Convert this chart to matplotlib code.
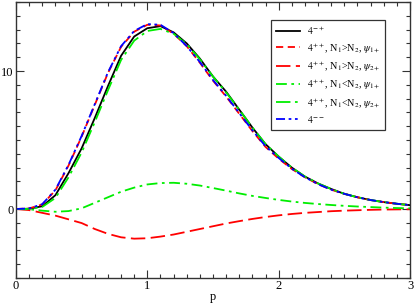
import matplotlib
matplotlib.use("Agg")
import matplotlib.pyplot as plt
from matplotlib.ticker import MultipleLocator

plt.rcParams['font.family'] = ['Liberation Serif', 'DejaVu Serif']
plt.rcParams['mathtext.fontset'] = 'stix'

p = [0.0, 0.1, 0.2, 0.3, 0.4, 0.5, 0.6, 0.7, 0.8, 0.9, 1.0,
     1.1, 1.2, 1.3, 1.4, 1.5, 1.6, 1.7, 1.8, 1.9, 2.0,
     2.1, 2.2, 2.3, 2.4, 2.5, 2.6, 2.7, 2.8, 2.9, 3.0]

# 4^{-+}
black = [0.0, 0.02, 0.2, 1.0, 2.6, 4.4, 6.6, 8.9, 11.1, 12.5, 13.1,
         13.25, 12.8, 12.0, 10.9, 9.6, 8.5, 7.2, 5.9, 4.7, 3.8,
         3.0, 2.35, 1.85, 1.45, 1.1, 0.85, 0.65, 0.5, 0.38, 0.28]
# 4^{++}, N1>N2, psi_1+
red1 = [0.0, 0.04, 0.33, 1.35, 3.15, 5.25, 7.55, 9.85, 11.75, 12.85, 13.35,
        13.3, 12.7, 11.8, 10.6, 9.3, 8.15, 6.9, 5.65, 4.5, 3.65,
        2.9, 2.3, 1.8, 1.4, 1.1, 0.85, 0.65, 0.5, 0.38, 0.28]
# 4^{++}, N1>N2, psi_2+
red2 = [0.0, -0.08, -0.28, -0.48, -0.75, -1.02, -1.45, -1.8, -2.05, -2.15, -2.12,
        -2.0, -1.85, -1.65, -1.45, -1.25, -1.05, -0.88, -0.72, -0.58, -0.46,
        -0.36, -0.28, -0.22, -0.16, -0.12, -0.09, -0.06, -0.04, -0.03, -0.02]
# 4^{++}, N1<N2, psi_1+
green1 = [0.0, -0.02, -0.12, -0.2, -0.15, 0.05, 0.45, 0.85, 1.25, 1.55, 1.78,
          1.88, 1.9, 1.83, 1.7, 1.52, 1.33, 1.13, 0.95, 0.8, 0.66,
          0.54, 0.44, 0.36, 0.29, 0.23, 0.18, 0.14, 0.1, 0.07, 0.05]
# 4^{++}, N1<N2, psi_2+
green2 = [0.0, 0.01, 0.15, 0.8, 2.3, 4.1, 6.3, 8.6, 10.8, 12.2, 12.9,
          13.05, 12.7, 11.95, 10.85, 9.6, 8.45, 7.2, 5.9, 4.7, 3.8,
          3.0, 2.35, 1.85, 1.45, 1.1, 0.85, 0.65, 0.5, 0.38, 0.28]
# 4^{--}
blue = [0.0, 0.04, 0.35, 1.4, 3.2, 5.3, 7.6, 9.9, 11.8, 12.9, 13.4,
        13.35, 12.75, 11.8, 10.65, 9.35, 8.2, 6.95, 5.7, 4.55, 3.7,
        2.92, 2.3, 1.8, 1.4, 1.1, 0.85, 0.65, 0.5, 0.38, 0.28]

labels = [r'$4^{-+}$',
          r'$4^{++}$, N$_1$>N$_2$, $\psi_{1+}$',
          r'$4^{++}$, N$_1$>N$_2$, $\psi_{2+}$',
          r'$4^{++}$, N$_1$<N$_2$, $\psi_{1+}$',
          r'$4^{++}$, N$_1$<N$_2$, $\psi_{2+}$',
          r'$4^{--}$']

fig = plt.figure(figsize=(4.15, 3.03), dpi=100)
ax = fig.add_axes([16 / 415, 1 - 278 / 303, 394 / 415, 276 / 303])

lw = 1.3
ax.plot(p, black, color='black', lw=lw, label=labels[0])
ax.plot(p, red1, color='#ff0000', lw=lw, ls=(0, (4, 2.5)), label=labels[1])
ax.plot(p, red2, color='#ff0000', lw=lw, ls=(0, (8, 3)), label=labels[2])
ax.plot(p, green1, color='#00ee00', lw=lw, ls=(0, (6, 2.5, 1.5, 2.5)), label=labels[3])
ax.plot(p, green2, color='#00ee00', lw=lw, ls=(0, (8, 2.5, 1.5, 2.5)), label=labels[4])
ax.plot(p, blue, color='#0000ff', lw=lw, ls=(0, (5, 2, 1.5, 2, 1.5, 2)), label=labels[5])

ax.set_xlim(0, 3)
ax.set_ylim(-5, 15)
ax.xaxis.set_major_locator(MultipleLocator(1))
ax.xaxis.set_minor_locator(MultipleLocator(0.1))
ax.yaxis.set_major_locator(MultipleLocator(10))
ax.yaxis.set_minor_locator(MultipleLocator(1))
ax.tick_params(which='both', direction='in', top=True, right=True,
               labelsize=9, colors='#333333', labelcolor='black', pad=1.5)
ax.tick_params(which='major', length=6, width=0.8)
ax.tick_params(which='minor', length=3, width=0.8)
for s in ax.spines.values():
    s.set_color('#333333')
    s.set_linewidth(1.0)

ax.set_xlabel('p', fontsize=9, labelpad=-1)

leg = ax.legend(loc='upper right', bbox_to_anchor=(0.937, 0.935), fontsize=7.3,
                handlelength=2.4, handletextpad=0.7, labelspacing=0.42,
                borderpad=0.45, borderaxespad=0, fancybox=False, framealpha=1,
                edgecolor='#333333')
leg.get_frame().set_linewidth(0.9)

fig.savefig('out.png', dpi=100)
